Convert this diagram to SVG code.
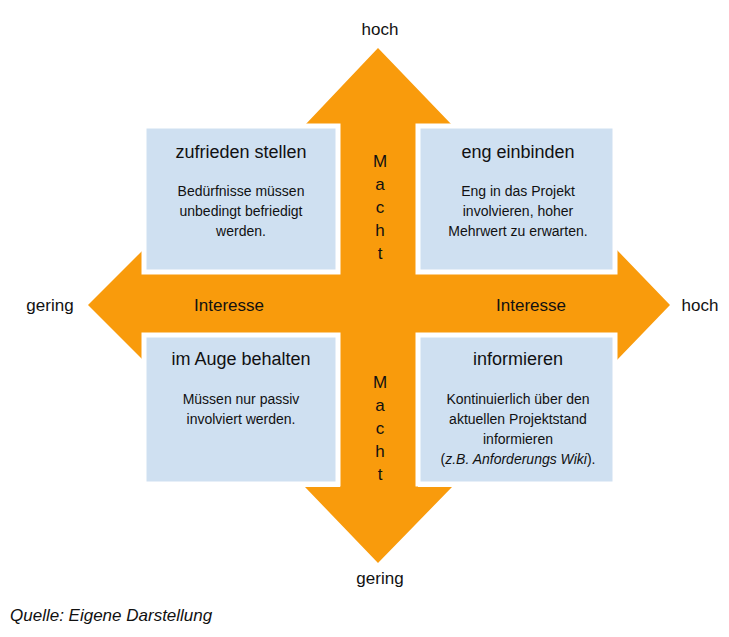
<svg xmlns="http://www.w3.org/2000/svg" width="729" height="637" viewBox="0 0 729 637">
<style>
text{font-family:"Liberation Sans",Arial,sans-serif;fill:#111}
.t{font-size:18px;text-anchor:middle}
.b{font-size:14px;text-anchor:middle}
.m{font-size:17px;text-anchor:middle}
.box{fill:#cfe0f1;stroke:#fff;stroke-width:5}
</style>
<rect width="729" height="637" fill="#fff"/>
<g id="arrows" fill="#f99b0c">
<polygon points="378,48 452,125 418,125 418,487 452,487 378,563 305,487 340,487 340,125 305,125"/>
<polygon points="88,305 143,250 143,267 617,267 617,250 670,305 617,360 617,343 143,343 143,360"/>
</g>
<g id="tl"><rect class="box" x="144" y="126" width="194" height="146"/>
<text class="t" x="241" y="158">zufrieden stellen</text>
<text class="b" x="241" y="196">Bedürfnisse müssen</text>
<text class="b" x="241" y="216">unbedingt befriedigt</text>
<text class="b" x="241" y="236">werden.</text></g>
<g id="tr"><rect class="box" x="418" y="126" width="197" height="146"/>
<text class="t" x="518" y="158">eng einbinden</text>
<text class="b" x="518" y="196">Eng in das Projekt</text>
<text class="b" x="518" y="216">involvieren, hoher</text>
<text class="b" x="518" y="236">Mehrwert zu erwarten.</text></g>
<g id="bl"><rect class="box" x="144" y="335" width="194" height="149"/>
<text class="t" x="241" y="365">im Auge behalten</text>
<text class="b" x="241" y="404">Müssen nur passiv</text>
<text class="b" x="241" y="424">involviert werden.</text></g>
<g id="br"><rect class="box" x="418" y="335" width="197" height="149"/>
<text class="t" x="518" y="365">informieren</text>
<text class="b" x="518" y="404">Kontinuierlich über den</text>
<text class="b" x="518" y="424">aktuellen Projektstand</text>
<text class="b" x="518" y="444">informieren</text>
<text class="b" x="518" y="464">(<tspan font-style="italic">z.B. Anforderungs Wiki</tspan>).</text></g>
<g id="labels">
<text class="m" x="380" y="167">M</text><text class="m" x="380" y="190">a</text><text class="m" x="380" y="213">c</text><text class="m" x="380" y="236">h</text><text class="m" x="380" y="259">t</text>
<text class="m" x="380" y="388">M</text><text class="m" x="380" y="411">a</text><text class="m" x="380" y="434">c</text><text class="m" x="380" y="457">h</text><text class="m" x="380" y="480">t</text>
<text class="m" x="229" y="311">Interesse</text>
<text class="m" x="531" y="311">Interesse</text>
<text class="m" x="380" y="35">hoch</text>
<text class="m" x="50" y="311">gering</text>
<text class="m" x="700" y="311">hoch</text>
<text class="m" x="380" y="584">gering</text>
<text x="10" y="621" font-size="17" font-style="italic">Quelle: Eigene Darstellung</text>
</g>
</svg>
